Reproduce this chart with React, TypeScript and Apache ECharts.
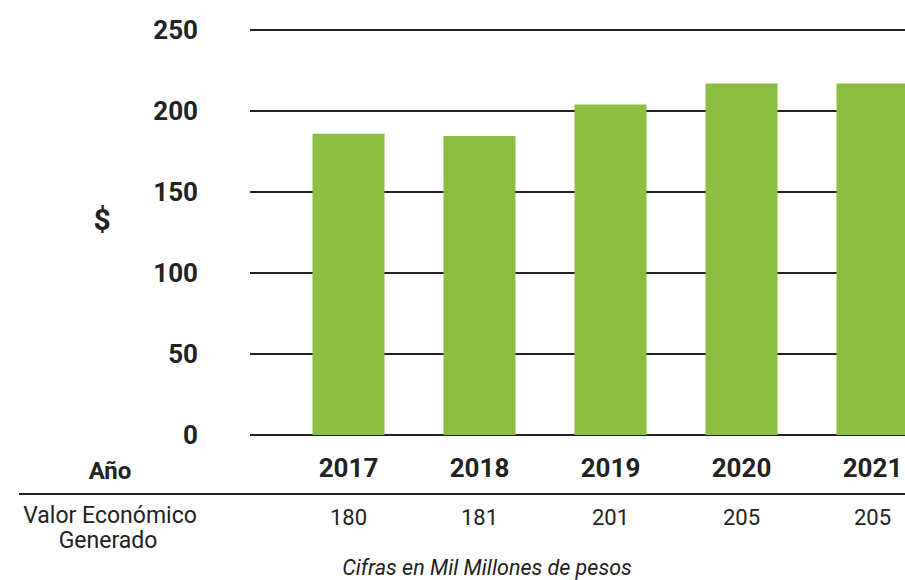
import React, { useEffect, useRef } from "react";
import * as echarts from "echarts";

const categories = ["2017", "2018", "2019", "2020", "2021"];
const barValues = [186, 184.5, 204, 217, 217];
const tableValues = ["180", "181", "201", "205", "205"];
const yTicks = [0, 50, 100, 150, 200, 250];

const FONT = 'Roboto, "Noto Sans", sans-serif';
const INK = "#222222";

export default function App() {
  const ref = useRef<HTMLDivElement>(null);
  useEffect(() => {
    if (!ref.current) return;
    const chart = echarts.init(ref.current, undefined, { renderer: "svg" });
    chart.setOption({
      animation: false,
      backgroundColor: "#ffffff",
      grid: [
        { left: 250, width: 655, top: 30, height: 405, outerBoundsMode: "none", containLabel: false },
        { left: 283, width: 655, top: 30, height: 405, outerBoundsMode: "none", containLabel: false },
      ],
      xAxis: [
        { type: "value", gridIndex: 0, show: false, min: 0, max: 1 },
        {
          type: "category",
          gridIndex: 1,
          data: categories,
          axisLine: { show: false },
          axisTick: { show: false },
          axisLabel: {
            margin: 20,
            fontFamily: FONT,
            fontWeight: "bold",
            fontSize: 26,
            color: INK,
          },
        },
        {
          type: "category",
          gridIndex: 1,
          position: "bottom",
          data: tableValues,
          axisLine: { show: false },
          axisTick: { show: false },
          axisLabel: {
            margin: 71,
            fontFamily: FONT,
            fontSize: 22,
            color: INK,
          },
        },
      ],
      yAxis: [
        {
          type: "value",
          gridIndex: 0,
          min: yTicks[0],
          max: yTicks[yTicks.length - 1],
          interval: 50,
          axisLine: { show: false },
          axisTick: { show: false },
          splitLine: { show: true, lineStyle: { color: INK, width: 2 } },
          axisLabel: {
            margin: 52,
            fontFamily: FONT,
            fontWeight: "bold",
            fontSize: 26,
            color: INK,
          },
        },
        {
          type: "value",
          gridIndex: 1,
          min: yTicks[0],
          max: yTicks[yTicks.length - 1],
          interval: 50,
          show: false,
          splitLine: { show: false },
        },
      ],
      series: [
        {
          type: "bar",
          xAxisIndex: 1,
          yAxisIndex: 1,
          data: barValues,
          barWidth: 72,
          itemStyle: { color: "#8CBE41" },
          z: 3,
        },
      ],
      graphic: [
        {
          type: "text",
          x: 102,
          y: 219,
          style: {
            text: "$",
            fontFamily: FONT,
            fontWeight: "bold",
            fontSize: 30,
            fill: INK,
            textAlign: "center",
            textVerticalAlign: "middle",
          },
        },
        {
          type: "text",
          x: 110,
          y: 471,
          style: {
            text: "Año",
            fontFamily: FONT,
            fontWeight: "bold",
            fontSize: 24,
            fill: INK,
            textAlign: "center",
            textVerticalAlign: "middle",
          },
        },
        {
          type: "line",
          shape: { x1: 19, y1: 494, x2: 905, y2: 494 },
          style: { stroke: INK, lineWidth: 2 },
        },
        {
          type: "text",
          x: 110,
          y: 515,
          style: {
            text: "Valor Económico",
            fontFamily: FONT,
            fontSize: 23,
            fill: INK,
            textAlign: "center",
            textVerticalAlign: "middle",
          },
        },
        {
          type: "text",
          x: 108,
          y: 540,
          style: {
            text: "Generado",
            fontFamily: FONT,
            fontSize: 23,
            fill: INK,
            textAlign: "center",
            textVerticalAlign: "middle",
          },
        },
        {
          type: "text",
          x: 487,
          y: 567,
          style: {
            text: "Cifras en Mil Millones de pesos",
            fontFamily: FONT,
            fontStyle: "italic",
            fontSize: 21.5,
            fill: INK,
            textAlign: "center",
            textVerticalAlign: "middle",
          },
        },
      ],
    });
    return () => chart.dispose();
  }, []);
  return (
    <div
      ref={ref}
      style={{ position: "fixed", left: 0, top: 0, width: 905, height: 580 }}
    />
  );
}
